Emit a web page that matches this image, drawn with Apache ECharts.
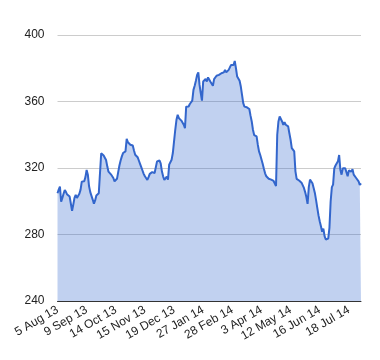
<!DOCTYPE html>
<html>
<head>
<meta charset="utf-8">
<script src="https://cdn.jsdelivr.net/npm/echarts@6/dist/echarts.min.js"></script>
<style>html,body{margin:0;padding:0;background:#fff}#c{width:380px;height:360px}</style>
</head>
<body>
<div id="c"></div>
<script>
var tickLabels = ['5 Aug 13','9 Sep 13','14 Oct 13','15 Nov 13','19 Dec 13','27 Jan 14','28 Feb 14','3 Apr 14','12 May 14','16 Jun 14','18 Jul 14'];
var yTicks = [240, 280, 320, 360, 400];
var values = [
304.8,307,308.8,299.7,302,304.5,306.8,305.5,304,303.2,
302.8,302.4,294.3,298,302,303.8,302,301,304.5,307,
311.8,311,312,314.5,318.8,316,309,305.5,304.8,301,
298.5,300.5,303.5,302.5,304.8,304.5,328.8,328.5,327.5,326.5,
324.8,321,317.8,317.5,316.2,315.5,314,312,310.8,313.5,
317.5,321.5,324.5,327,329,329.5,330,337.5,335.5,334.5,
334,333,333.5,330.5,328,327.5,326.5,324.5,322.5,320.5,
318.5,316.5,315,313.8,312.8,314.5,316.5,317,317.5,317.8,
317,317.5,324,325.2,324.5,322.8,318,315,312.8,314,
314.8,313,322,321,325,329,336,343,349,352,
350,349.5,348.5,347.5,346,344,356.9,356,357,358.5,
359,360.5,367,369.5,372.5,376,377.5,370,365,360.5,
372,373,373.5,372,374.5,374,371.9,371,369.5,373.5,
374.5,375.5,376,376,376.5,377,377.5,377.5,378.9,377.5,
378.5,379,380.5,382,382.5,382,384.4,380,375,374,
372.5,369,364,359,356.9,356,356.5,357,355.5,351.5,
348,343,339.8,340.5,339,334,330,327.8,326.8,322.5,
319.5,316.8,315,313.8,313.5,313.8,313,312.5,312.2,311.2,
309.2,340,348,351,350.5,348,345.9,347.5,346,345,
345,340.9,337,332,330.8,330,318,313.5,313,312.5,
311.5,311.2,311,308,305.5,302.5,298.4,308.5,313,312.5,
310.8,308,305,300.7,296,291.5,288,285,281.7,283.5,
279,277,276.3,277.5,284,300,308.5,310,319.8,321.5,
322.5,324,327.8,319,316,319.8,320,319.8,318.8,315,
318.5,318.5,317.8,319.2,316,315,314,312.8,312,309.8,
310.8
];
var categories = values.map(function (v, i) { return String(i); });

var chart = echarts.init(document.getElementById('c'), null, {renderer: 'canvas'});
chart.setOption({
  animation: false,
  backgroundColor: '#ffffff',
  grid: {left: 57.5, right: 19, top: 35, bottom: 59, containLabel: false},
  xAxis: {
    type: 'category',
    data: categories,
    boundaryGap: false,
    axisLine: {show: true, lineStyle: {color: '#333333', width: 1}},
    axisTick: {show: false},
    splitLine: {show: false},
    axisLabel: {
      interval: 23,
      rotate: 30,
      margin: 8,
      color: '#222222',
      fontFamily: 'Liberation Sans, Arial, sans-serif',
      fontSize: 12,
      formatter: function (v, idx) { return tickLabels[Math.round(idx / 24)] || ''; }
    }
  },
  yAxis: {
    type: 'value',
    min: yTicks[0],
    max: yTicks[yTicks.length - 1],
    interval: 40,
    axisLine: {show: false},
    axisTick: {show: false},
    splitLine: {show: true, lineStyle: {color: '#cccccc', width: 1}},
    axisLabel: {
      margin: 13,
      color: '#222222',
      fontFamily: 'Liberation Sans, Arial, sans-serif',
      fontSize: 12
    }
  },
  series: [{
    type: 'line',
    data: values,
    symbol: 'none',
    smooth: false,
    lineStyle: {color: '#3366cc', width: 2},
    itemStyle: {color: '#3366cc'},
    areaStyle: {color: '#3366cc', opacity: 0.3}
  }]
});
</script>
</body>
</html>
